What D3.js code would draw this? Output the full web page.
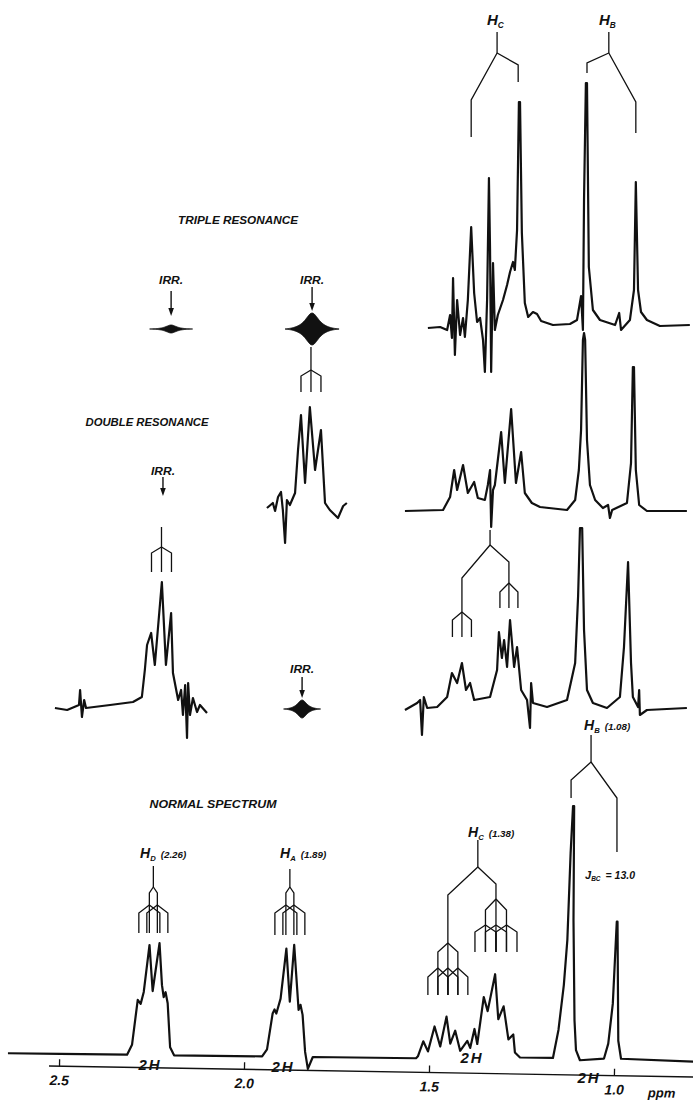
<!DOCTYPE html>
<html>
<head>
<meta charset="utf-8">
<script src="https://cdn.jsdelivr.net/npm/d3@7"></script>
<style>
  body{margin:0;background:#fff}
  text{font-family:"Liberation Sans",Arial,sans-serif;font-style:italic;font-weight:bold;fill:#111}
</style>
</head>
<body>
<div id="chart"></div>
<script>
// ---- data: [ppm, relative intensity] ----
const axisTicks = [2.5, 2.0, 1.5, 1.0];

const normalSpec = [
  [2.638,0],[2.497,0],[2.316,0],[2.303,4],[2.289,22],[2.281,20.4],[2.273,25.2],[2.259,44],[2.249,25.6],[2.232,44.8],
  [2.224,28],[2.219,23.2],[2.214,25.2],[2.208,20.8],[2.200,3.2],[2.189,0],
  [1.951,0],[1.938,2.8],[1.924,17.2],[1.919,18.8],[1.914,17.2],[1.903,23.2],[1.889,43.2],[1.878,22],[1.868,44.8],
  [1.854,18.8],[1.849,20.8],[1.843,16.8],[1.835,2],[1.827,-4.8],[1.814,0],
  [1.535,0],[1.530,0.8],[1.516,6.8],[1.503,2.8],[1.486,12.8],[1.470,4.8],[1.454,16.8],[1.443,6],[1.430,11.2],
  [1.416,3.2],[1.397,7.2],[1.389,4.4],[1.378,12],[1.370,6],[1.354,24.8],[1.343,19.2],[1.324,34],[1.314,16],
  [1.300,21.2],[1.286,8],[1.273,10],[1.268,2.8],[1.254,0.8],
  [1.165,0.8],[1.151,12],[1.138,30],[1.130,48],[1.124,82.8],[1.119,101.6],[1.116,101.6],[1.114,56],[1.108,16],
  [1.103,4],[1.092,0],
  [1.027,0.8],[1.016,6.8],[1.005,22.8],[0.997,55.6],[0.995,55.6],[0.989,8],[0.981,0.8],[0.786,0]
];

const tripleSpec = [
  [1.503,-0.8],[1.470,-0.4],[1.451,-1.6],[1.443,4.4],[1.438,-4.8],[1.435,19.2],[1.430,-11.6],[1.424,10.4],
  [1.416,-3.6],[1.408,3.2],[1.403,-4.4],[1.395,10.4],[1.386,39.6],[1.378,13.2],[1.370,1.6],[1.362,3.2],
  [1.354,-5.6],[1.349,-18.4],[1.343,10.4],[1.338,59.2],[1.335,30.4],[1.332,-18.4],[1.327,25.2],[1.322,-1.6],
  [1.314,4.4],[1.300,10.4],[1.289,16.4],[1.281,21.6],[1.273,25.6],[1.268,22.4],[1.262,38.4],[1.257,89.6],
  [1.254,89.6],[1.249,37.2],[1.241,9.2],[1.232,3.6],[1.219,5.6],[1.208,4.8],[1.197,2],[1.165,0.4],[1.119,0.8],
  [1.100,2.4],[1.089,12],[1.084,-1.6],[1.081,50.4],[1.076,97.2],[1.073,97.2],[1.068,23.6],[1.057,6.4],
  [1.038,2.4],[0.997,0.4],[0.986,5.2],[0.981,-1.6],[0.957,2.4],[0.946,14.4],[0.941,57.6],[0.935,14.4],
  [0.927,5.6],[0.911,2.4],[0.876,0],[0.795,0.4]
];

// double resonance, irradiating H_D
const double1Mid = [
  [1.938,-0.8],[1.922,1.2],[1.916,-2],[1.908,3.6],[1.900,5.6],[1.895,-1.6],[1.889,-14.8],[1.884,2.4],
  [1.876,0.4],[1.862,5.2],[1.854,22.4],[1.846,36.4],[1.835,9.2],[1.822,39.6],[1.808,14.4],[1.792,30.4],
  [1.781,1.2],[1.768,-1.6],[1.746,-4.8],[1.732,0],[1.722,1.2]
];
const double1Right = [
  [1.565,0],[1.462,0.4],[1.443,5.6],[1.432,16.4],[1.424,8.4],[1.408,18.4],[1.395,7.2],[1.378,11.6],[1.368,5.2],
  [1.349,4.4],[1.341,10.4],[1.335,16.4],[1.332,-6.4],[1.327,8.4],[1.322,10.4],[1.305,31.6],[1.295,11.2],
  [1.278,40.8],[1.265,11.2],[1.251,23.6],[1.241,7.2],[1.222,3.2],[1.200,1.6],[1.127,0.4],[1.105,4.4],
  [1.095,16.4],[1.089,32.4],[1.084,68.4],[1.081,71.2],[1.078,68.4],[1.073,28.4],[1.065,10.4],[1.051,4.4],
  [1.030,1.2],[1.016,2.4],[1.011,-2.8],[1.005,0.4],[0.965,3.2],[0.954,19.2],[0.949,57.6],[0.946,57.6],
  [0.941,16.4],[0.932,2.4],[0.911,0],[0.803,0]
];

// double resonance, irradiating H_A
const double2Left = [
  [2.511,-0.4],[2.478,-1.2],[2.446,0.8],[2.443,6.8],[2.438,-4],[2.432,2.8],[2.427,-0.4],[2.362,0.8],[2.300,2],
  [2.276,4],[2.268,14.8],[2.262,24.8],[2.251,29.6],[2.241,16.8],[2.222,50],[2.211,16.8],[2.197,37.6],
  [2.192,13.6],[2.178,2.8],[2.170,6.8],[2.165,-3.2],[2.159,8.8],[2.154,-12.4],[2.151,9.6],[2.146,-3.2],
  [2.138,3.6],[2.127,-2],[2.119,0.8],[2.100,-2.4]
];
const double2Right = [
  [1.565,-1.6],[1.532,1.2],[1.524,2.4],[1.519,-11.6],[1.514,3.6],[1.505,-0.8],[1.478,-0.4],[1.451,3.6],
  [1.438,13.2],[1.424,9.2],[1.411,17.2],[1.400,6.4],[1.389,9.2],[1.378,2.4],[1.335,3.6],[1.316,14.4],
  [1.311,29.6],[1.303,19.2],[1.297,26.4],[1.289,15.6],[1.281,34.4],[1.270,15.6],[1.262,23.6],[1.251,6.4],
  [1.235,2.4],[1.227,-8.8],[1.224,9.2],[1.219,1.2],[1.181,-0.4],[1.127,2.4],[1.105,17.2],[1.097,44],
  [1.092,71.2],[1.086,71.2],[1.081,30.4],[1.073,6.4],[1.057,1.2],[1.019,-0.8],[0.984,3.6],[0.973,23.6],
  [0.962,57.6],[0.954,17.2],[0.949,3.6],[0.935,-0.4],[0.932,6.4],[0.930,-3.6],[0.911,-1.6],[0.803,-0.8]
];

// splitting trees (ppm)
const treeHD = {stem:2.245, l1:[0.0108,-0.0108], l2:[0.0284,0,-0.0284]};
const treeHA = {stem:1.876, l1:[0.0108,-0.0108], l2:[0.0297,0,-0.0297]};
const treeHCnormal = {stem:1.368, left:1.449, right:1.319, jLeft:0.027, jRight:0.0284};
const treeHBnormal = {stem:1.062, left:1.116, right:0.992};
const treeHCtop = {stem:1.316, left:1.386, right:1.259};
const treeHBtop = {stem:1.014, left:1.073, right:0.941};
const tripletHA2 = {stem:1.819, j:0.027};
const tripletHD3 = {stem:2.223, j:0.027};
const treeHC3 = {stem:1.335, left:1.411, right:1.284, jLeft:0.0257, jRight:0.0243};

// irradiation points (ppm, half width ppm, amplitude)
const irrTriple = [{ppm:2.197, half:0.058, amp:1.6}, {ppm:1.816, half:0.073, amp:6.4}];
const irrDouble1 = [{ppm:2.219}];
const irrDouble2 = [{ppm:1.843, half:0.05, amp:3.6}];

// ---- drawing ----
const W = 693, H = 1104;
const svg = d3.select("#chart").append("svg")
  .attr("width", W).attr("height", H).style("background", "#fff");

const x = d3.scaleLinear().domain([2.5, 1.0]).range([59, 614]);
const yI = d3.scaleLinear().domain([0, 100]).range([0, -250]);
const line = d3.line().x(d => x(d[0])).y(d => yI(d[1]));

function trace(data, base, rot){
  const g = svg.append("g")
    .attr("transform", `translate(0,${base})` + (rot ? ` rotate(${rot},150,0)` : ""));
  g.append("path").datum(data).attr("d", line)
    .attr("fill","none").attr("stroke","#111").attr("stroke-width",2.2)
    .attr("stroke-linejoin","round");
  return g;
}

trace(tripleSpec, 326);
trace(double1Mid, 506);
trace(double1Right, 511);
trace(double2Left, 707);
trace(double2Right, 706);
trace(normalSpec, 1055, 0.7);

// irradiation glyphs
const k = 0.32, L0 = 1/(1+1/(k*k));
const prof = d3.range(-1, 1.0001, 0.04).map(t => [t, (1/(1+(t/k)*(t/k)) - L0)/(1-L0)]);
function glyph(d, cy){
  const area = d3.area()
    .x(p => x(d.ppm + p[0]*d.half))
    .y0(p => cy + yI(d.amp*p[1]))
    .y1(p => cy - yI(d.amp*p[1]));
  svg.append("path").datum(prof).attr("d", area).attr("fill","#111").attr("stroke","#111").attr("stroke-width",0.8);
}
function arrow(ppm, y0, y1){
  const xx = x(ppm);
  svg.append("line").attr("x1",xx).attr("x2",xx).attr("y1",y0).attr("y2",y1-5)
    .attr("stroke","#111").attr("stroke-width",1.4);
  svg.append("path").attr("d",`M${xx-2.8},${y1-8}L${xx+2.8},${y1-8}L${xx},${y1}Z`).attr("fill","#111");
}
function irrText(ppm, y){
  svg.append("text").attr("x", x(ppm)).attr("y", y).attr("text-anchor","middle")
    .attr("font-size", 10).attr("textLength", 24).attr("lengthAdjust","spacingAndGlyphs").text("IRR.");
}

glyph(irrTriple[0], 329); arrow(irrTriple[0].ppm, 291, 316); irrText(irrTriple[0].ppm, 284);
glyph(irrTriple[1], 329); arrow(irrTriple[1].ppm, 287, 311); irrText(irrTriple[1].ppm, 284);
arrow(irrDouble1[0].ppm, 477, 496); irrText(irrDouble1[0].ppm, 475);
glyph(irrDouble2[0], 709); arrow(irrDouble2[0].ppm, 677, 698); irrText(irrDouble2[0].ppm, 673);

// splitting trees
const tree = svg.append("g").attr("fill","none").attr("stroke","#111").attr("stroke-width",1.3);
function leg(p0, y0, p1, yJoin, yEnd){
  tree.append("path").attr("d", `M${x(p0)},${y0}L${x(p1)},${yJoin}L${x(p1)},${yEnd}`);
}
function stem(p, y0, y1){ leg(p, y0, p, y0, y1); }
function split(p, y0, offs, yJoin, yEnd){
  return offs.map(o => { leg(p, y0, p + o, yJoin, yEnd); return p + o; });
}
const trip = j => [j, 0, -j];

stem(treeHD.stem, 866, 887);
split(treeHD.stem, 887, treeHD.l1, 893, 905).forEach(p => split(p, 905, treeHD.l2, 913, 933));
stem(treeHA.stem, 869, 887);
split(treeHA.stem, 887, treeHA.l1, 893, 905).forEach(p => split(p, 905, treeHA.l2, 913, 935));

stem(treeHCnormal.stem, 840, 867);
leg(treeHCnormal.stem, 867, treeHCnormal.left, 895, 943);
split(treeHCnormal.left, 943, trip(treeHCnormal.jLeft), 952, 968)
  .forEach(p => split(p, 968, trip(treeHCnormal.jLeft), 977, 995));
leg(treeHCnormal.stem, 867, treeHCnormal.right, 884, 899);
split(treeHCnormal.right, 899, trip(treeHCnormal.jRight), 910, 925)
  .forEach(p => split(p, 925, trip(treeHCnormal.jRight), 932, 952));

stem(treeHBnormal.stem, 735, 762);
leg(treeHBnormal.stem, 762, treeHBnormal.left, 780, 798);
leg(treeHBnormal.stem, 762, treeHBnormal.right, 798, 852);

stem(treeHCtop.stem, 32, 53);
leg(treeHCtop.stem, 53, treeHCtop.left, 100, 137);
leg(treeHCtop.stem, 53, treeHCtop.right, 65, 82);
stem(treeHBtop.stem, 32, 53);
leg(treeHBtop.stem, 53, treeHBtop.left, 63, 73);
leg(treeHBtop.stem, 53, treeHBtop.right, 102, 133);

stem(tripletHA2.stem, 347, 370);
split(tripletHA2.stem, 370, trip(tripletHA2.j), 376, 392);
stem(tripletHD3.stem, 527, 547);
split(tripletHD3.stem, 547, trip(tripletHD3.j), 553, 572);

stem(treeHC3.stem, 530, 545);
leg(treeHC3.stem, 545, treeHC3.left, 578, 612);
split(treeHC3.left, 612, trip(treeHC3.jLeft), 620, 637);
leg(treeHC3.stem, 545, treeHC3.right, 562, 583);
split(treeHC3.right, 583, trip(treeHC3.jRight), 592, 608);

// labels
function hLabel(px, py, sub, rest, size){
  const t = svg.append("text").attr("x", px).attr("y", py).attr("font-size", size).attr("font-weight","normal");
  t.append("tspan").text("H");
  t.append("tspan").attr("font-size", size*0.55).attr("dy", 3).attr("font-weight","bold").text(sub);
  if (rest) t.append("tspan").attr("font-size", size*0.7).attr("dy", -3).attr("dx", 5).attr("font-weight","bold").text(rest);
}
hLabel(487, 25, "C", null, 15);
hLabel(599, 25, "B", null, 15);
hLabel(140, 858, "D", "(2.26)", 14);
hLabel(280, 858, "A", "(1.89)", 14);
hLabel(468, 837, "C", "(1.38)", 14);
hLabel(584, 730, "B", "(1.08)", 14);

const j = svg.append("text").attr("x", 585).attr("y", 879).attr("font-size", 11);
j.append("tspan").text("J");
j.append("tspan").attr("font-size", 6.5).attr("dy", 2).text("BC");
j.append("tspan").attr("font-size", 10.5).attr("dy", -2).attr("dx", 5).text("= 13.0");

function header(txt, cx, y, len){
  svg.append("text").attr("x", cx).attr("y", y).attr("text-anchor","middle").attr("font-size", 11)
    .attr("textLength", len).attr("lengthAdjust","spacingAndGlyphs").text(txt);
}
header("TRIPLE  RESONANCE", 238, 224, 120);
header("DOUBLE  RESONANCE", 147, 426, 123);
header("NORMAL   SPECTRUM", 213, 808, 127);

[[150,1070],[283,1072],[472,1063],[589,1083]].forEach(p => {
  svg.append("text").attr("x", p[0]).attr("y", p[1]).attr("text-anchor","middle")
    .attr("font-size", 15).attr("font-weight","normal").attr("letter-spacing", 2).text("2H");
});

// ppm axis (slightly skewed on the original chart)
const ax = svg.append("g").attr("transform", "rotate(0.98,50,1066)");
const axG = ax.append("g").attr("transform", "translate(0,1066)")
  .call(d3.axisBottom(x).tickValues(axisTicks).tickFormat(d3.format(".1f")).tickSize(-7).tickPadding(9));
axG.select(".domain").remove();
axG.selectAll(".tick line").attr("stroke","#111").attr("stroke-width",1.3);
axG.selectAll(".tick text").attr("font-size", 14).attr("font-family", null).attr("fill","#111")
  .style("font-style","italic").style("font-weight","bold");
ax.append("line").attr("x1", 49).attr("x2", 700).attr("y1", 1066).attr("y2", 1066)
  .attr("stroke","#111").attr("stroke-width",1.4);
ax.append("text").attr("x", 662).attr("y", 1087).attr("text-anchor","middle").attr("font-size", 13).text("ppm");
</script>
</body>
</html>
